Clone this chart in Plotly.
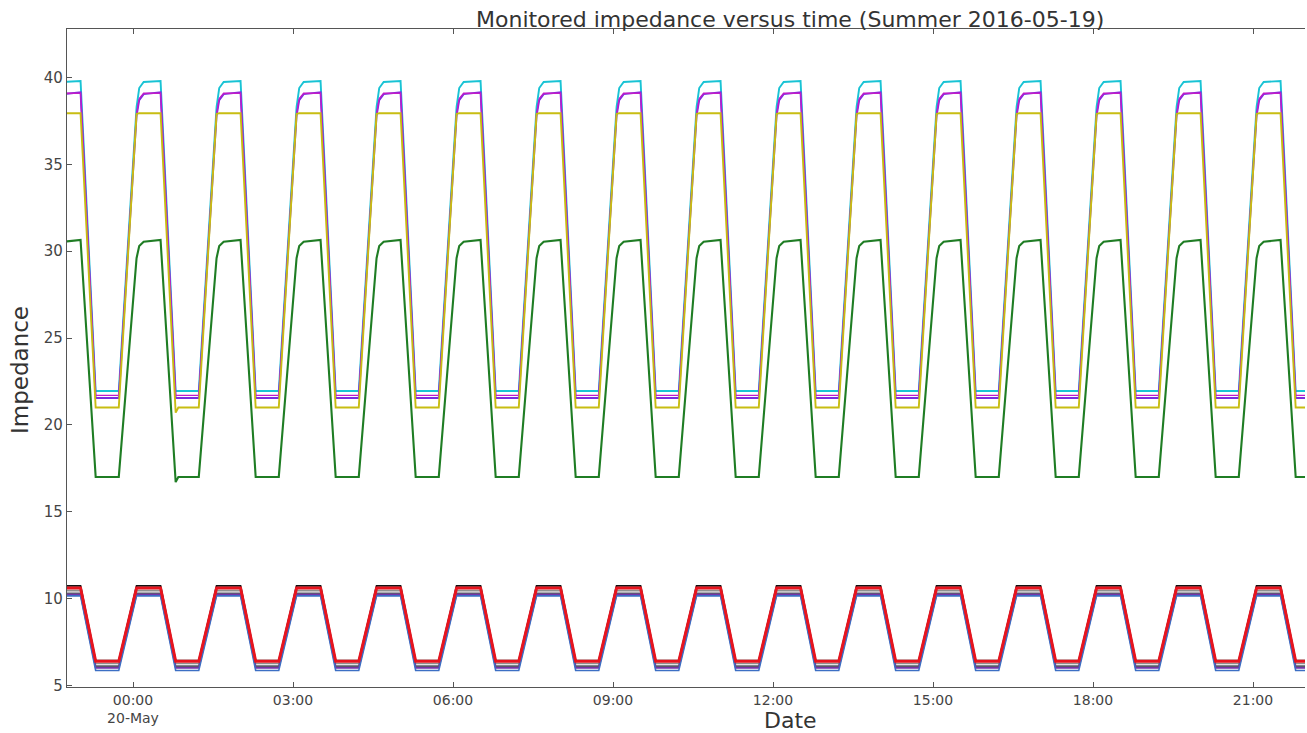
import plotly.graph_objects as go
import pandas as pd

# ---- data ----
# start time of each high plateau (one per 90-min cycle)
cycle_starts = [
    "2016-05-19 22:34", "2016-05-20 00:04", "2016-05-20 01:34", "2016-05-20 03:04",
    "2016-05-20 04:34", "2016-05-20 06:04", "2016-05-20 07:34", "2016-05-20 09:04",
    "2016-05-20 10:34", "2016-05-20 12:04", "2016-05-20 13:34", "2016-05-20 15:04",
    "2016-05-20 16:34", "2016-05-20 18:04", "2016-05-20 19:34", "2016-05-20 21:04",
]
# minutes after cycle start of each vertex of one cycle
upper_offsets = [0, 3, 8, 27, 44, 47, 70]
lower_offsets = [0, 27, 44, 70]

# upper group: value at each vertex of a cycle
cyan_vals    = [38.3, 39.4, 39.75, 39.8, 21.95, 21.95, 21.95]
violet_vals  = [37.8, 38.7, 39.05, 39.15, 21.55, 21.55, 21.55]
magenta_vals = [37.9, 38.8, 39.1, 39.1, 21.7, 21.7, 21.7]
yellow_vals  = [37.9, 37.95, 37.95, 37.95, 21.0, 21.0, 21.0]
green_vals   = [29.6, 30.3, 30.55, 30.65, 17.0, 17.0, 17.0]
# per-cycle value at the start of the low plateau (small dips)
yellow_low_start = [21.0, 20.7, 21.0, 21.0, 21.0, 21.0, 21.0, 21.0,
                    21.0, 21.0, 21.0, 21.0, 21.0, 21.0, 21.0, 21.0]
green_low_start  = [17.0, 16.7, 17.0, 17.0, 17.0, 17.0, 17.0, 17.0,
                    17.0, 17.0, 17.0, 17.0, 17.0, 17.0, 17.0, 17.0]

# lower group: high plateau / low plateau levels
lower_high = {"k": 10.72, "gray": 10.45, "slate": 10.3, "purple": 10.22, "blue": 10.15, "red": 10.6}
lower_low  = {"k": 6.42, "gray": 6.25, "slate": 6.1, "purple": 6.0, "blue": 5.85, "red": 6.38}

x_tick_vals = ["2016-05-20 00:00", "2016-05-20 03:00", "2016-05-20 06:00", "2016-05-20 09:00",
               "2016-05-20 12:00", "2016-05-20 15:00", "2016-05-20 18:00", "2016-05-20 21:00"]
x_tick_text = ["00:00<br>20-May", "03:00", "06:00", "09:00", "12:00", "15:00", "18:00", "21:00"]
y_tick_vals = [5, 10, 15, 20, 25, 30, 35, 40]

x_range = ["2016-05-19 22:45:45", "2016-05-20 21:58:30"]
y_range = [4.9, 42.8]


def build(offsets, vals, low_start=None, low_idx=None):
    xs, ys = [], []
    for i, s in enumerate(cycle_starts):
        t0 = pd.Timestamp(s)
        for j, (o, v) in enumerate(zip(offsets, vals)):
            if low_start is not None and j == low_idx:
                v = low_start[i]
            xs.append(t0 + pd.Timedelta(minutes=o))
            ys.append(v)
    return xs, ys


fig = go.Figure()

upper = [
    ("cyan", "#19c3d4", 1.9, cyan_vals, None),
    ("violet", "#7a2be0", 1.9, violet_vals, None),
    ("magenta", "#c21cc8", 1.3, magenta_vals, None),
    ("yellow", "#c8bd12", 1.9, yellow_vals, yellow_low_start),
    ("green", "#1f7d24", 2.1, green_vals, green_low_start),
]
for name, col, w, vals, ls in upper:
    xs, ys = build(upper_offsets, vals, ls, 4)
    fig.add_trace(go.Scatter(x=xs, y=ys, mode="lines", name=name,
                             line=dict(color=col, width=w), showlegend=False))

lower_colors = [("k", "#111111", 1.7), ("gray", "#8f8f8f", 1.6), ("slate", "#5a5a6a", 1.6),
                ("purple", "#7434a8", 1.6), ("blue", "#3c6fc4", 1.6), ("red", "#e8141e", 3.0)]
for key, col, w in lower_colors:
    vals = [lower_high[key], lower_high[key], lower_low[key], lower_low[key]]
    xs, ys = build(lower_offsets, vals)
    fig.add_trace(go.Scatter(x=xs, y=ys, mode="lines", name=key,
                             line=dict(color=col, width=w), showlegend=False))

font = "DejaVu Sans"
fig.update_layout(
    width=1307, height=733,
    margin=dict(l=67, r=2, t=29, b=46),
    paper_bgcolor="white", plot_bgcolor="white",
    font=dict(family=font, color="#333333"),
    hovermode=False,
    xaxis=dict(type="date", range=x_range, tickvals=x_tick_vals, ticktext=x_tick_text,
               showgrid=False, zeroline=False, showline=True, linecolor="#555555", linewidth=1.2,
               mirror="ticks", ticks="inside", ticklen=5, tickcolor="#555555",
               tickfont=dict(family=font, size=14, color="#444444")),
    yaxis=dict(range=y_range, tickvals=y_tick_vals, showgrid=False, zeroline=False,
               showline=True, linecolor="#555555", linewidth=1.2, ticks="inside", ticklen=5,
               tickcolor="#555555", tickfont=dict(family=font, size=15, color="#444444")),
    annotations=[
        dict(text="Monitored impedance versus time (Summer 2016-05-19)", xref="paper", yref="paper",
             x=(790 - 67) / 1238, y=1, yanchor="middle", xanchor="center", yshift=10,
             showarrow=False, font=dict(family=font, size=22, color="#333333")),
        dict(text="Date", xref="paper", yref="paper", x=(790 - 67) / 1238, y=0,
             yanchor="middle", xanchor="center", yshift=-33, showarrow=False,
             font=dict(family=font, size=22, color="#333333")),
        dict(text="Impedance", xref="paper", yref="paper", x=(20 - 67) / 1238, y=(687 - 370) / 658,
             xanchor="center", yanchor="middle", textangle=-90, showarrow=False,
             font=dict(family=font, size=23, color="#333333")),
    ],
)

fig.write_html("out.html", default_width="1307px", default_height="733px",
               config={"displayModeBar": False},
               post_script="document.body.style.margin='0px';")
